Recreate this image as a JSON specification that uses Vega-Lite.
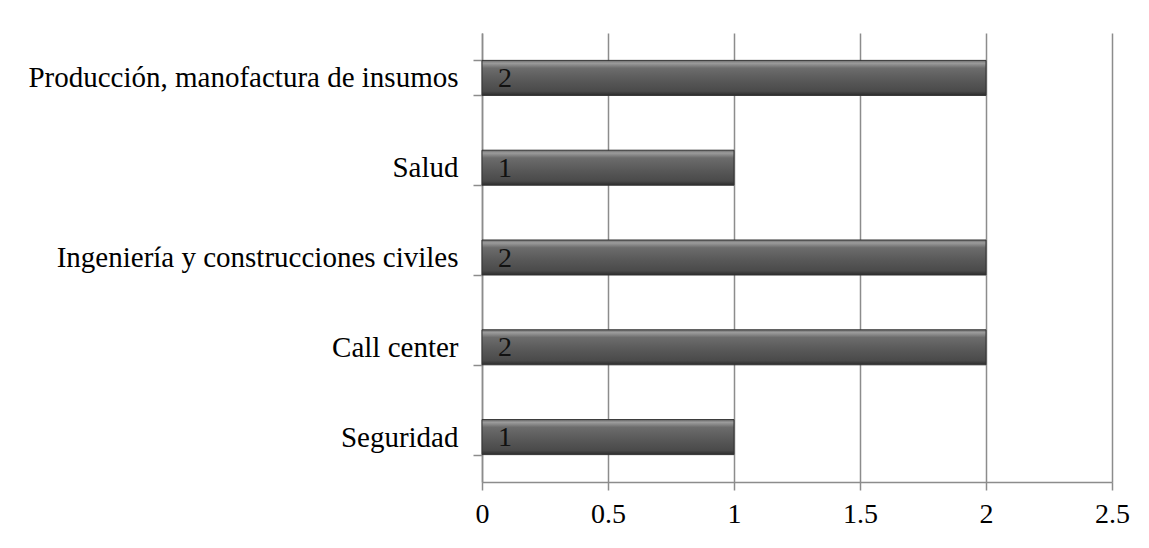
{
  "$schema": "https://vega.github.io/schema/vega-lite/v6.json",
  "width": 630,
  "height": 449,
  "autosize": {"type": "none"},
  "padding": {"left": 482, "top": 33, "right": 37, "bottom": 66},
  "background": "white",
  "config": {
    "view": {"stroke": null},
    "font": "Liberation Serif",
    "axis": {
      "labelFont": "Liberation Serif",
      "labelColor": "#000000",
      "domainColor": "#8c8c8c",
      "tickColor": "#8c8c8c",
      "gridColor": "#8c8c8c",
      "domainWidth": 1.5,
      "tickWidth": 1.5,
      "gridWidth": 1.5
    }
  },
  "data": {
    "values": [
      {"sector": "Producción, manofactura de insumos", "valor": 2},
      {"sector": "Salud", "valor": 1},
      {"sector": "Ingeniería y construcciones civiles", "valor": 2},
      {"sector": "Call center", "valor": 2},
      {"sector": "Seguridad", "valor": 1}
    ]
  },
  "encoding": {
    "y": {
      "field": "sector",
      "type": "nominal",
      "sort": null,
      "title": null,
      "scale": {"paddingInner": 0.61, "paddingOuter": 0.305},
      "axis": {
        "labelFontSize": 29,
        "labelPadding": 15,
        "tickSize": 9,
        "tickBand": "extent",
        "labelLimit": 600
      }
    },
    "x": {
      "field": "valor",
      "type": "quantitative",
      "title": null,
      "scale": {"domain": [0, 2.5], "nice": false},
      "axis": {
        "values": [0, 0.5, 1, 1.5, 2, 2.5],
        "format": "~g",
        "labelFontSize": 28,
        "tickSize": 8,
        "labelPadding": 10,
        "grid": true,
        "labelFlush": false
      }
    }
  },
  "layer": [
    {
      "mark": {
        "type": "bar",
        "stroke": "#333333",
        "strokeWidth": 1,
        "color": {
          "gradient": "linear",
          "x1": 0, "y1": 0, "x2": 0, "y2": 1,
          "stops": [
            {"offset": 0, "color": "#6a6a6a"},
            {"offset": 0.08, "color": "#9c9c9c"},
            {"offset": 0.22, "color": "#6c6c6c"},
            {"offset": 0.6, "color": "#575757"},
            {"offset": 0.88, "color": "#4a4a4a"},
            {"offset": 1, "color": "#2c2c2c"}
          ]
        }
      }
    },
    {
      "mark": {
        "type": "text",
        "align": "left",
        "baseline": "middle",
        "dx": 16,
        "dy": 1,
        "fontSize": 28,
        "font": "Liberation Serif",
        "color": "#111111"
      },
      "encoding": {
        "x": {"datum": 0, "type": "quantitative"},
        "text": {"field": "valor", "type": "quantitative"}
      }
    }
  ]
}
